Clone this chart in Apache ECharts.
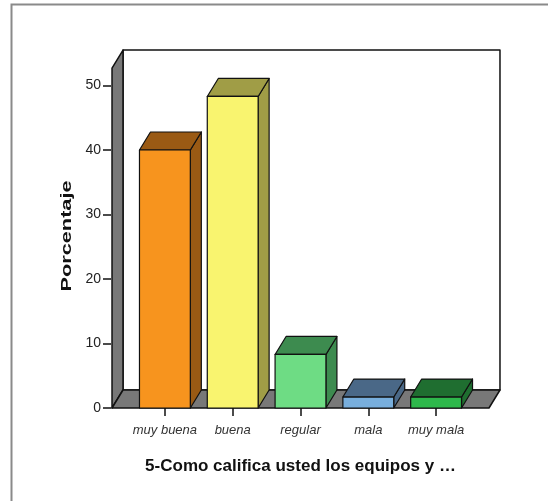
<!DOCTYPE html>
<html>
<head>
<meta charset="utf-8">
<style>
  html, body { margin: 0; padding: 0; background: #fff; }
  #chart { width: 548px; height: 501px; }
</style>
<script src="https://cdn.jsdelivr.net/npm/echarts@6/dist/echarts.min.js"></script>
</head>
<body>
<div id="chart"></div>
<script>
// Rating of the equipment, percentage of respondents per answer
const categories = ['muy buena', 'buena', 'regular', 'mala', 'muy mala'];
const percentages = [40.0, 48.3, 8.3, 1.7, 1.7];
const axisTitle = '5-Como califica usted los equipos y \u2026';
const valueTitle = 'Porcentaje';

// face colours (front) and shaded colours (top and side) of each bar
const frontColors = ['#f7941e', '#f9f46f', '#6edc84', '#78aedc', '#2eb84b'];
const shadeColors = ['#9a5a14', '#a09d46', '#3d8b4f', '#4a6887', '#1f6e30'];

// pseudo-3D depth of the box and bars, in pixels
const DX = 11, DY = -18;
const WALL_TOP = 52.7;   // value at the top edge of the front of the side wall
const SIDE_PAD = 0.28;   // floor overhang beyond the outer bands, in bands

const chart = echarts.init(document.getElementById('chart'), null, { renderer: 'canvas' });

function renderBox(params, api) {
  const cs = params.coordSys;
  const band = api.size([1, 0])[0];
  const L = cs.x - band * SIDE_PAD;
  const R = cs.x + cs.width + band * SIDE_PAD;
  const y0 = api.coord([0, 0])[1];
  const yt = api.coord([0, WALL_TOP])[1];
  const stroke = { stroke: '#111', lineWidth: 1.5, lineJoin: 'round' };
  return {
    type: 'group',
    children: [
      { type: 'rect', shape: { x: L + DX, y: yt + DY, width: R - L, height: y0 - yt },
        style: Object.assign({ fill: '#fff' }, stroke) },
      { type: 'polygon', shape: { points: [[L, y0], [L, yt], [L + DX, yt + DY], [L + DX, y0 + DY]] },
        style: Object.assign({ fill: '#787878' }, stroke) },
      { type: 'polygon', shape: { points: [[L, y0], [R, y0], [R + DX, y0 + DY], [L + DX, y0 + DY]] },
        style: Object.assign({ fill: '#787878' }, stroke) }
    ]
  };
}

function renderBar(params, api) {
  const i = api.value(0);
  const v = api.value(1);
  const top = api.coord([i, v]);
  const base = api.coord([i, 0]);
  const half = api.size([1, 0])[0] * 0.375;
  const x1 = top[0] - half, x2 = top[0] + half;
  const yv = top[1], y0 = base[1];
  const line = { stroke: '#111', lineWidth: 1.2, lineJoin: 'round' };
  return {
    type: 'group',
    children: [
      { type: 'polygon', shape: { points: [[x2, yv], [x2 + DX, yv + DY], [x2 + DX, y0 + DY], [x2, y0]] },
        style: Object.assign({ fill: shadeColors[i] }, line) },
      { type: 'polygon', shape: { points: [[x1, yv], [x2, yv], [x2 + DX, yv + DY], [x1 + DX, yv + DY]] },
        style: Object.assign({ fill: shadeColors[i] }, line) },
      { type: 'rect', shape: { x: x1, y: yv, width: x2 - x1, height: y0 - yv },
        style: Object.assign({ fill: frontColors[i] }, line) }
    ]
  };
}

const option = {
  animation: false,
  backgroundColor: '#fff',
  grid: { left: 131, right: 78, top: 85.5, bottom: 93 },
  xAxis: {
    type: 'category',
    data: categories,
    axisLine: { show: false },
    axisTick: { show: true, alignWithLabel: true, length: 8, lineStyle: { color: '#111', width: 1.5 } },
    axisLabel: {
      interval: 0,
      margin: 16,
      fontFamily: '"Liberation Sans", Arial, sans-serif',
      fontStyle: 'italic',
      fontSize: 13,
      color: '#333'
    },
    splitLine: { show: false },
    name: axisTitle,
    nameLocation: 'middle',
    nameGap: 50,
    nameTextStyle: {
      fontFamily: '"Liberation Sans", Arial, sans-serif',
      fontWeight: 'bold',
      fontSize: 17,
      color: '#111'
    }
  },
  yAxis: {
    type: 'value',
    min: 0,
    max: 50,
    interval: 10,
    offset: 20,
    axisLine: { show: false },
    axisTick: { show: true, length: 8, lineStyle: { color: '#111', width: 1.5 } },
    axisLabel: {
      margin: 10,
      fontFamily: '"Liberation Sans", Arial, sans-serif',
      fontSize: 14,
      color: '#222'
    },
    splitLine: { show: false }
  },
  graphic: [
    { type: 'rect', silent: true, z: -10,
      shape: { x: 11.5, y: 4.5, width: 700, height: 700 },
      style: { fill: 'none', stroke: '#8a8a8a', lineWidth: 2 } },
    { type: 'text', silent: true,
      x: 66.5, y: 236, rotation: Math.PI / 2, scaleX: 1.45,
      style: {
        text: valueTitle,
        fontFamily: '"Liberation Sans", Arial, sans-serif',
        fontWeight: 'bold',
        fontSize: 15,
        fill: '#111',
        align: 'center',
        verticalAlign: 'middle'
      } }
  ],
  series: [
    { type: 'custom', z: 1, clip: false, silent: true,
      renderItem: renderBox, data: [[0, 0]], encode: { x: 0, y: 1 } },
    { type: 'custom', z: 2, clip: false, silent: true,
      renderItem: renderBar,
      data: percentages.map((v, i) => [i, v]),
      encode: { x: 0, y: 1 } }
  ]
};

chart.setOption(option);
</script>
</body>
</html>
